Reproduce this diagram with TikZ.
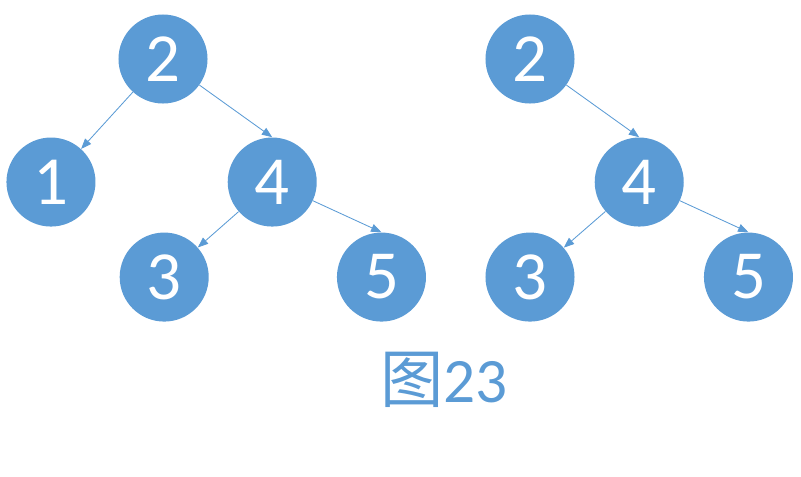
\documentclass[tikz,border=0pt]{standalone}
\usepackage{fontspec}
\setmainfont{Carlito}
\newfontfamily\cjk{Noto Sans CJK SC}
\usepackage{xcolor}
\usetikzlibrary{positioning}
\usetikzlibrary{arrows.meta}
\definecolor{keyblue}{HTML}{5B9BD5}

\begin{document}
\begin{tikzpicture}[x=0.025cm, y=0.025cm, on grid,
                    key/.style={circle, fill=keyblue, minimum size=2.225cm,
                                inner sep=0pt, text=white,
                                font=\fontsize{49}{58}\selectfont},
                    link/.style={draw=keyblue, line width=0.6pt,
                                 -{Triangle[length=2.6mm, width=2mm]}}]

  \useasboundingbox (0,0) rectangle (801,-476);

  % left tree
  \node[key] (a2) at (163,-59) {2};
  \node[key, below left=3.075cm and 2.8cm of a2]   (a1) {1};
  \node[key, below right=3.075cm and 2.73cm of a2] (a4) {4};
  \node[key, below left=2.375cm and 2.7cm of a4]   (a3) {3};
  \node[key, below right=2.375cm and 2.73cm of a4] (a5) {5};

  \path[link] (a2) -- (a1);
  \path[link] (a2) -- (a4.north);
  \path[link] (a4) -- (a3);
  \path[link] (a4) -- (a5.north);

  % right tree
  \node[key] (b2) at (530,-59) {2};
  \node[key, below right=3.075cm and 2.73cm of b2] (b4) {4};
  \node[key, below left=2.375cm and 2.73cm of b4]  (b3) {3};
  \node[key, below right=2.375cm and 2.73cm of b4] (b5) {5};

  \path[link] (b2) -- (b4.north);
  \path[link] (b4) -- (b3);
  \path[link] (b4) -- (b5.north);

  \node[text=keyblue, font=\fontsize{45}{54}\selectfont] (cap) at (444,-380)
    {{\cjk 图}23};

\end{tikzpicture}
\end{document}
